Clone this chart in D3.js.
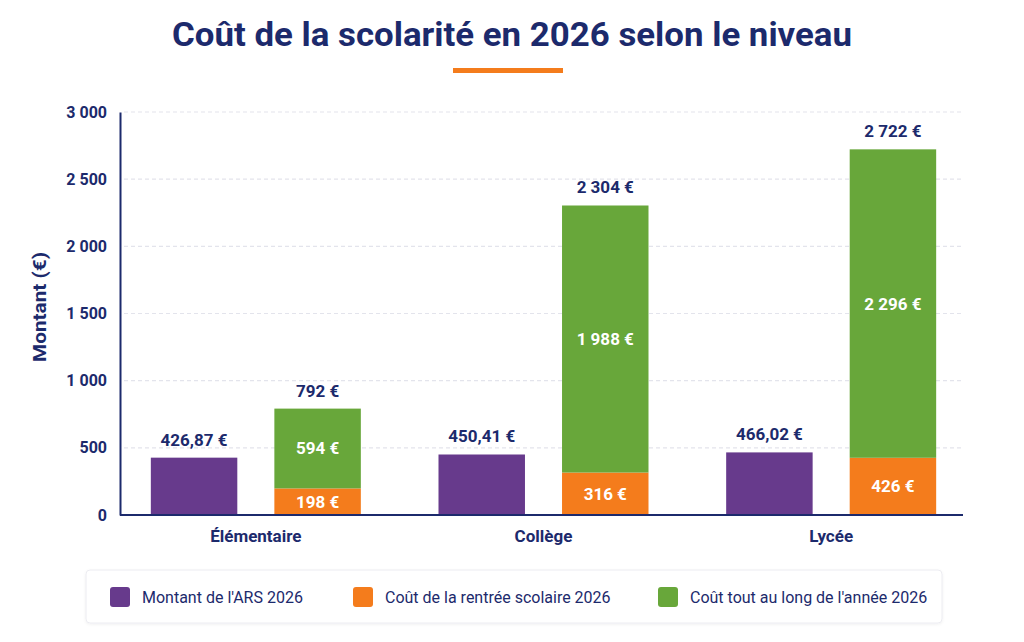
<!DOCTYPE html>
<html lang="fr">
<head>
<meta charset="utf-8">
<script src="https://cdn.jsdelivr.net/npm/d3@7"></script>
<style>
  html, body { margin: 0; padding: 0; background: #ffffff; }
  svg { display: block; font-family: Roboto, "Noto Sans", sans-serif; }
</style>
</head>
<body>
<svg id="chart" width="1024" height="642"></svg>
<script>
const width = 1024;
const height = 642;

// data
var categories = ["Élémentaire", "Collège", "Lycée"];
var ars = [426.87, 450.41, 466.02];
var rentree = [198, 316, 426];
var annee = [594, 1988, 2296];
var yTicks = [0, 500, 1000, 1500, 2000, 2500, 3000];
var legendLabels = ["Montant de l'ARS 2026", "Coût de la rentrée scolaire 2026", "Coût tout au long de l'année 2026"];

var navy = "#1c2a6c";
var colors = ["#673a8c", "#f47c1c", "#68a73a"];

var fr = d3.formatLocale({ decimal: ",", thousands: "\u00a0", grouping: [3], currency: ["", "\u00a0€"] });
var fmtInt = fr.format(",d");
var fmtDec = fr.format(",.2f");

var svg = d3.select("#chart");

// title
svg.append("text")
    .attr("x", width / 2).attr("y", 46)
    .attr("text-anchor", "middle")
    .attr("textLength", 680).attr("lengthAdjust", "spacingAndGlyphs")
    .attr("fill", navy)
    .style("font-size", "34px").style("font-weight", 700)
    .text("Coût de la scolarité en 2026 selon le niveau");

svg.append("rect")
    .attr("x", 453).attr("y", 68).attr("width", 110).attr("height", 5)
    .attr("fill", colors[1]);

// scales
var x0 = d3.scaleBand().domain(categories).range([112, 975]);
var x1 = d3.scaleBand().domain(["ars", "cout"]).range([-105, 105]).paddingInner(0.3);
var y = d3.scaleLinear().domain([0, 3000]).range([515, 112]);

var plotLeft = 120, plotRight = 963;

// grid
svg.append("g").selectAll("line")
    .data(yTicks.filter(function (d) { return d > 0; }))
    .join("line")
    .attr("x1", plotLeft + 4).attr("x2", plotRight)
    .attr("y1", function (d) { return y(d); }).attr("y2", function (d) { return y(d); })
    .attr("stroke", "#e3e4ec").attr("stroke-width", 1.2)
    .attr("stroke-dasharray", "4,3");

// y axis
var yAxis = svg.append("g")
    .attr("transform", "translate(" + plotLeft + ",0)")
    .call(d3.axisLeft(y).tickValues(yTicks).tickFormat(fmtInt).tickSize(0).tickPadding(13));
yAxis.select(".domain").attr("stroke", navy).attr("stroke-width", 2);
yAxis.selectAll("text")
    .attr("fill", navy)
    .style("font-size", "16px").style("font-weight", 700)
    .style("font-family", "Roboto, sans-serif");

svg.append("text")
    .attr("transform", "translate(46," + 307 + ") rotate(-90)")
    .attr("text-anchor", "middle")
    .attr("textLength", 110).attr("lengthAdjust", "spacingAndGlyphs")
    .attr("fill", navy)
    .style("font-size", "19px").style("font-weight", 700)
    .text("Montant (€)");

// bars
var groups = svg.append("g").selectAll("g")
    .data(categories)
    .join("g")
    .attr("transform", function (d) { return "translate(" + (x0(d) + x0.bandwidth() / 2) + ",0)"; });

// ARS bars
groups.append("rect")
    .attr("x", x1("ars"))
    .attr("width", x1.bandwidth())
    .attr("y", function (d, i) { return y(ars[i]); })
    .attr("height", function (d, i) { return y(0) - y(ars[i]); })
    .attr("fill", colors[0]);

groups.append("text")
    .attr("x", x1("ars") + x1.bandwidth() / 2)
    .attr("y", function (d, i) { return y(ars[i]) - 12; })
    .attr("text-anchor", "middle")
    .attr("fill", navy)
    .style("font-size", "17px").style("font-weight", 700)
    .text(function (d, i) { return fmtDec(ars[i]) + " €"; });

// stacked: rentree + annee
groups.append("rect")
    .attr("x", x1("cout"))
    .attr("width", x1.bandwidth())
    .attr("y", function (d, i) { return y(rentree[i]); })
    .attr("height", function (d, i) { return y(0) - y(rentree[i]); })
    .attr("fill", colors[1]);

groups.append("rect")
    .attr("x", x1("cout"))
    .attr("width", x1.bandwidth())
    .attr("y", function (d, i) { return y(rentree[i] + annee[i]); })
    .attr("height", function (d, i) { return y(rentree[i]) - y(rentree[i] + annee[i]); })
    .attr("fill", colors[2]);

groups.append("text")
    .attr("x", x1("cout") + x1.bandwidth() / 2)
    .attr("y", function (d, i) { return y(rentree[i] / 2); })
    .attr("dy", "0.35em")
    .attr("text-anchor", "middle")
    .attr("fill", "#ffffff")
    .style("font-size", "17px").style("font-weight", 700)
    .text(function (d, i) { return fmtInt(rentree[i]) + " €"; });

groups.append("text")
    .attr("x", x1("cout") + x1.bandwidth() / 2)
    .attr("y", function (d, i) { return y(rentree[i] + annee[i] / 2); })
    .attr("dy", "0.35em")
    .attr("text-anchor", "middle")
    .attr("fill", "#ffffff")
    .style("font-size", "17px").style("font-weight", 700)
    .text(function (d, i) { return fmtInt(annee[i]) + " €"; });

groups.append("text")
    .attr("x", x1("cout") + x1.bandwidth() / 2)
    .attr("y", function (d, i) { return y(rentree[i] + annee[i]) - 12; })
    .attr("text-anchor", "middle")
    .attr("fill", navy)
    .style("font-size", "17px").style("font-weight", 700)
    .text(function (d, i) { return fmtInt(rentree[i] + annee[i]) + " €"; });

// x axis line and labels
svg.append("line")
    .attr("x1", plotLeft).attr("x2", plotRight)
    .attr("y1", y(0)).attr("y2", y(0))
    .attr("stroke", navy).attr("stroke-width", 2);

groups.append("text")
    .attr("y", 542)
    .attr("text-anchor", "middle")
    .attr("fill", navy)
    .style("font-size", "17px").style("font-weight", 700)
    .text(function (d) { return d; });

// legend
var defs = svg.append("defs");
var f = defs.append("filter").attr("id", "shadow").attr("x", "-5%").attr("y", "-20%").attr("width", "110%").attr("height", "160%");
f.append("feDropShadow").attr("dx", 0).attr("dy", 1).attr("stdDeviation", 1.5).attr("flood-color", "#000").attr("flood-opacity", 0.06);

svg.append("rect")
    .attr("x", 86).attr("y", 570).attr("width", 856).attr("height", 53)
    .attr("rx", 4)
    .attr("fill", "#ffffff").attr("stroke", "#ececf1")
    .attr("filter", "url(#shadow)");

var legendX = [110, 353, 658];
var items = svg.append("g").selectAll("g")
    .data(legendLabels)
    .join("g")
    .attr("transform", function (d, i) { return "translate(" + legendX[i] + ",587)"; });

items.append("rect")
    .attr("width", 20).attr("height", 20).attr("rx", 3)
    .attr("fill", function (d, i) { return colors[i]; });

items.append("text")
    .attr("x", 32).attr("y", 10).attr("dy", "0.35em")
    .attr("fill", navy)
    .style("font-size", "16px").style("font-weight", 400)
    .text(function (d) { return d; });
</script>
</body>
</html>
